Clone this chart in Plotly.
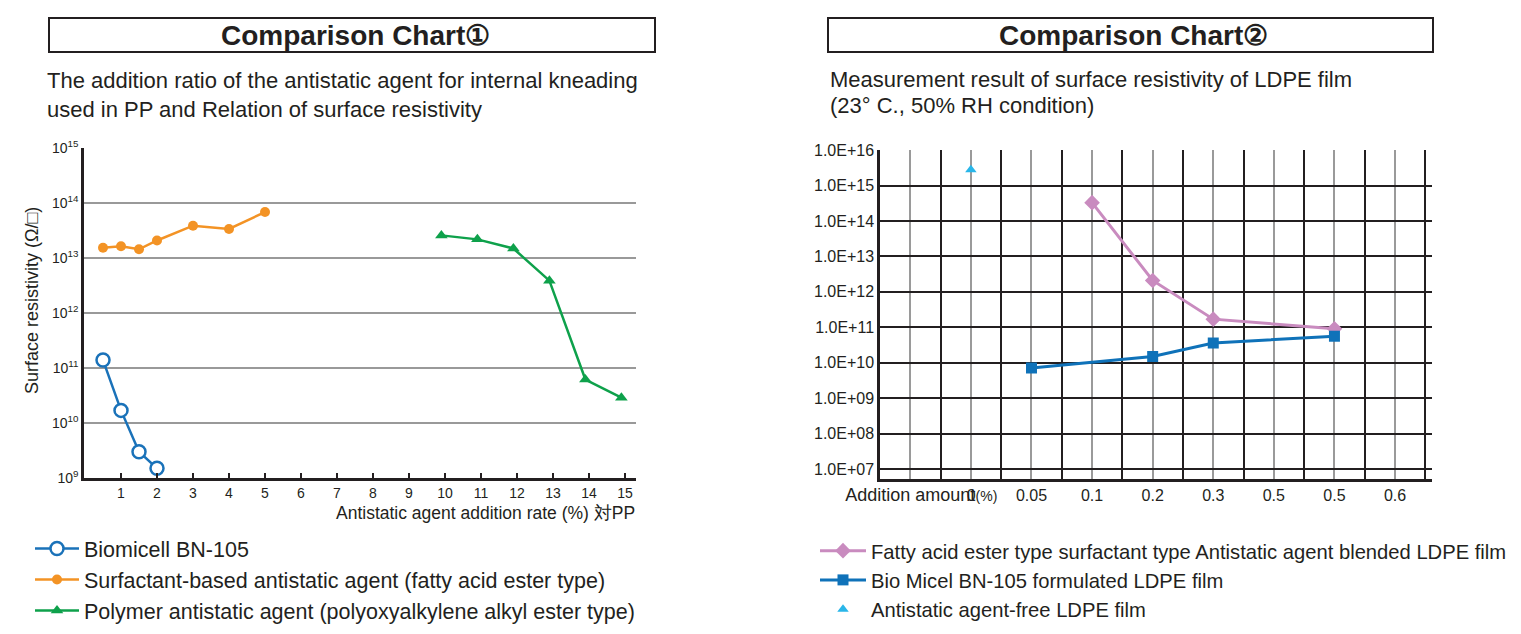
import plotly.graph_objects as go

W, H = 1521, 634

# ---------------- Chart 1 data ----------------
c1_x_ticks = list(range(1, 16))
c1_y_tickvals = [1e9, 1e10, 1e11, 1e12, 1e13, 1e14, 1e15]
c1_y_ticktext = ["10<sup>9</sup>", "10<sup>10</sup>", "10<sup>11</sup>", "10<sup>12</sup>",
                 "10<sup>13</sup>", "10<sup>14</sup>", "10<sup>15</sup>"]

bn105_x = [0.5, 1, 1.5, 2]
bn105_y = [1.4e11, 1.7e10, 3.0e9, 1.5e9]
surf_x = [0.5, 1, 1.5, 2, 3, 4, 5]
surf_y = [1.55e13, 1.65e13, 1.45e13, 2.1e13, 3.9e13, 3.4e13, 6.9e13]
poly_x = [9.9, 10.9, 11.9, 12.9, 13.9, 14.9]
poly_y = [2.6e13, 2.2e13, 1.5e13, 3.9e12, 6.2e10, 2.9e10]

# ---------------- Chart 2 data ----------------
c2_categories = ["<span style='font-size:18px'>Addition amount</span>",
                 "\u00a0\u00a0\u00a0\u00a0\u00a00<span style='font-size:14px'>(%)</span>",
                 "0.05", "0.1", "0.2", "0.3", "0.5", "0.5", "0.6"]
c2_y_tickvals = [1e7, 1e8, 1e9, 1e10, 1e11, 1e12, 1e13, 1e14, 1e15, 1e16]
c2_y_ticktext = ["1.0E+07", "1.0E+08", "1.0E+09", "1.0E+10", "1.0E+11",
                 "1.0E+12", "1.0E+13", "1.0E+14", "1.0E+15", "1.0E+16"]

fatty_idx = [3, 4, 5, 7]
fatty_y = [3.3e14, 2.1e12, 1.7e11, 9.1e10]
bio_idx = [2, 4, 5, 7]
bio_y = [7.1e9, 1.5e10, 3.6e10, 5.6e10]
free_idx = [1]
free_y = [2.8e15]

FONT = "Liberation Sans, Arial, sans-serif"
TXT = "#231f20"


def px(x):
    return x / W


def py(y):
    return 1 - y / H


fig = go.Figure()

# Chart 1 traces
fig.add_trace(go.Scatter(
    x=bn105_x, y=bn105_y, mode="lines+markers", name="Biomicell BN-105",
    line=dict(color="#1a72b9", width=2.5),
    marker=dict(symbol="circle", size=13, color="white", line=dict(color="#1a72b9", width=2.5)),
    xaxis="x", yaxis="y", legend="legend"))
fig.add_trace(go.Scatter(
    x=surf_x, y=surf_y, mode="lines+markers",
    name="Surfactant-based antistatic agent (fatty acid ester type)",
    line=dict(color="#f39325", width=2.5),
    marker=dict(symbol="circle", size=10, color="#f39325"),
    xaxis="x", yaxis="y", legend="legend"))
fig.add_trace(go.Scatter(
    x=poly_x, y=poly_y, mode="lines+markers",
    name="Polymer antistatic agent (polyoxyalkylene alkyl ester type)",
    line=dict(color="#0ea14b", width=2.5),
    marker=dict(symbol="triangle-up", size=11, color="#0ea14b"),
    xaxis="x", yaxis="y", legend="legend"))

# Chart 2 traces
fig.add_trace(go.Scatter(
    x=fatty_idx, y=fatty_y, mode="lines+markers",
    name="Fatty acid ester type surfactant type Antistatic agent blended LDPE film",
    line=dict(color="#c98bbf", width=3),
    marker=dict(symbol="diamond", size=12, color="#c98bbf"),
    xaxis="x2", yaxis="y2", legend="legend2"))
fig.add_trace(go.Scatter(
    x=bio_idx, y=bio_y, mode="lines+markers",
    name="Bio Micel BN-105 formulated LDPE film",
    line=dict(color="#0f72b9", width=3),
    marker=dict(symbol="square", size=11, color="#0f72b9"),
    xaxis="x2", yaxis="y2", legend="legend2"))
fig.add_trace(go.Scatter(
    x=free_idx, y=free_y, mode="markers",
    name="Antistatic agent-free LDPE film",
    marker=dict(symbol="triangle-up", size=10, color="#29b6e9"),
    xaxis="x2", yaxis="y2", legend="legend2"))

fig.update_layout(
    width=W, height=H, autosize=False,
    margin=dict(l=0, r=0, t=0, b=0, pad=0, autoexpand=False),
    paper_bgcolor="white", plot_bgcolor="white",
    font=dict(family=FONT, color=TXT),
    xaxis=dict(
        domain=[px(84), px(636)], range=[-0.028, 15.306],
        tickmode="array", tickvals=c1_x_ticks, ticktext=[str(v) for v in c1_x_ticks],
        ticks="inside", ticklen=5, tickwidth=2, tickcolor=TXT, tickangle=0,
        showline=True, linecolor=TXT, linewidth=2.5,
        showgrid=False, zeroline=False, automargin=False,
        tickfont=dict(size=14, color=TXT), anchor="y"),
    yaxis=dict(
        domain=[py(478), py(148)], type="log", range=[9, 15.005],
        tickmode="array", tickvals=c1_y_tickvals, ticktext=c1_y_ticktext,
        ticks="", showline=True, linecolor=TXT, linewidth=2.5,
        showgrid=True, gridcolor="#999999", gridwidth=2, zeroline=False, automargin=False,
        tickfont=dict(size=14, color=TXT), anchor="x"),
    xaxis2=dict(
        domain=[px(880), px(1432)], range=[-0.5, 8.61],
        tickmode="array", tickvals=list(range(len(c2_categories))), ticktext=c2_categories,
        ticks="", tickangle=0, showline=True, linecolor=TXT, linewidth=2.5,
        showgrid=True, gridcolor="#9a9a9a", gridwidth=2, zeroline=False, automargin=False,
        minor=dict(tickmode="array", tickvals=[i + 0.5 for i in range(-1, len(c2_categories))],
                   showgrid=True, gridcolor=TXT, gridwidth=2, ticks=""),
        tickfont=dict(size=16, color=TXT), anchor="y2"),
    yaxis2=dict(
        domain=[py(479), py(150)], type="log", range=[6.718, 16.005],
        tickmode="array", tickvals=c2_y_tickvals, ticktext=c2_y_ticktext,
        ticks="", showline=True, linecolor=TXT, linewidth=2.5,
        showgrid=True, gridcolor=TXT, gridwidth=2, zeroline=False, automargin=False,
        tickfont=dict(size=16, color=TXT), anchor="x2"),
    legend=dict(
        x=px(30), y=py(528), xanchor="left", yanchor="top",
        bgcolor="rgba(0,0,0,0)", font=dict(size=21.5, color=TXT, family=FONT),
        itemwidth=44, tracegroupgap=0),
    legend2=dict(
        x=px(815), y=py(531), xanchor="left", yanchor="top",
        bgcolor="rgba(0,0,0,0)", font=dict(size=20.2, color=TXT, family=FONT),
        itemwidth=46, tracegroupgap=0),
    showlegend=True,
)

# Title boxes
for x0, x1 in [(49, 655), (828, 1433)]:
    fig.add_shape(type="rect", xref="paper", yref="paper",
                  x0=px(x0), x1=px(x1), y0=py(52), y1=py(18),
                  line=dict(color=TXT, width=2), fillcolor="rgba(0,0,0,0)")

annotations = [
    dict(text="<b>Comparison Chart①</b>", x=px(355), y=py(36), size=28, xanchor="center"),
    dict(text="<b>Comparison Chart②</b>", x=px(1133), y=py(36), size=28, xanchor="center"),
    dict(text="The addition ratio of the antistatic agent for internal kneading", x=px(45), y=py(81), size=22, xanchor="left"),
    dict(text="used in PP and Relation of surface resistivity", x=px(45), y=py(109), size=22, xanchor="left"),
    dict(text="Measurement result of surface resistivity of LDPE film", x=px(828), y=py(79), size=22, xanchor="left"),
    dict(text="(23° C., 50% RH condition)", x=px(828), y=py(106), size=22, xanchor="left"),
    dict(text="Antistatic agent addition rate (%) 対PP", x=px(637), y=py(513), size=17.5, xanchor="right"),
]
for a in annotations:
    fig.add_annotation(text=a["text"], x=a["x"], y=a["y"], xref="paper", yref="paper",
                       xanchor=a["xanchor"], yanchor="middle", showarrow=False,
                       font=dict(size=a["size"], color=TXT, family=FONT))

fig.add_annotation(text="Surface resistivity (Ω/□)", x=px(32), y=py(301), xref="paper", yref="paper",
                   textangle=-90, showarrow=False, xanchor="center", yanchor="middle",
                   font=dict(size=18, color=TXT, family=FONT))

fig.write_html("out.html", config={"displayModeBar": False},
               post_script="document.body.style.margin='0';")
